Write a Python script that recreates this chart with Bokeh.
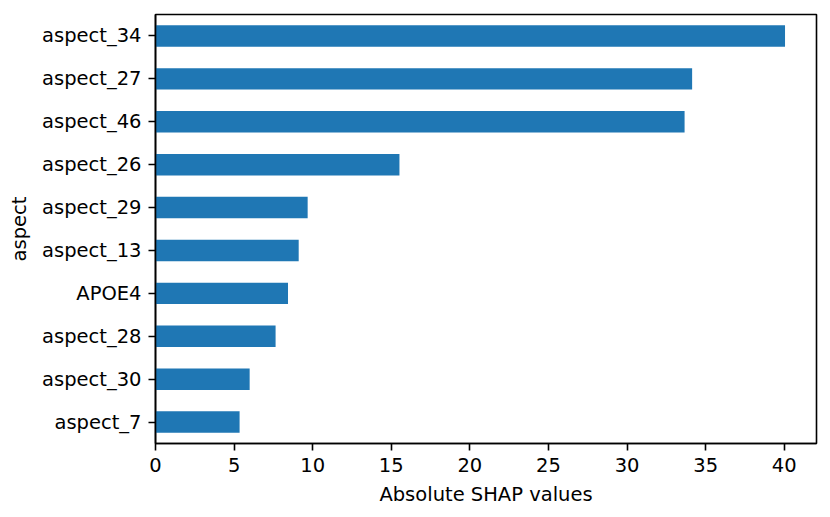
from bokeh.plotting import figure
from bokeh.models import ColumnDataSource, FactorRange, Range1d, FixedTicker
from bokeh.embed import file_html
from bokeh.resources import INLINE

# data (top to bottom as displayed)
aspects = ["aspect_34", "aspect_27", "aspect_46", "aspect_26", "aspect_29",
           "aspect_13", "APOE4", "aspect_28", "aspect_30", "aspect_7"]
shap_values = [40.05, 34.14, 33.66, 15.52, 9.68, 9.11, 8.43, 7.64, 5.99, 5.35]
x_ticks = [0, 5, 10, 15, 20, 25, 30, 35, 40]

FONT = "DejaVu Sans"
FS = "19.5px"

factors = list(reversed(aspects))
src = ColumnDataSource(dict(aspect=aspects, value=shap_values))

p = figure(
    y_range=FactorRange(factors=factors),
    x_range=Range1d(0, max(shap_values) * 1.05),
    frame_width=661, frame_height=429,
    min_border_left=155, min_border_top=14, min_border_right=6, min_border_bottom=60,
    output_backend="svg", toolbar_location=None,
)
p.hbar(y="aspect", right="value", left=0, height=0.5, source=src,
       fill_color="#1f77b4", line_color=None)

p.xgrid.visible = False
p.ygrid.visible = False
p.outline_line_color = "black"
p.outline_line_width = 1.6
p.outline_line_alpha = 1.0

for ax in (p.xaxis[0], p.yaxis[0]):
    ax.axis_line_color = "black"
    ax.axis_line_width = 1.6
    ax.major_tick_line_color = "black"
    ax.major_tick_line_width = 1.6
    ax.major_tick_out = 7
    ax.major_tick_in = 0
    ax.minor_tick_line_color = None
    ax.major_label_standoff = 7
    ax.major_label_text_font = FONT
    ax.major_label_text_font_size = FS
    ax.major_label_text_color = "black"
    ax.axis_label_text_font = FONT
    ax.axis_label_text_font_size = FS
    ax.axis_label_text_font_style = "normal"
    ax.axis_label_text_color = "black"
    ax.axis_label_standoff = 8

p.xaxis[0].ticker = FixedTicker(ticks=x_ticks)
p.xaxis[0].axis_label = "Absolute SHAP values"
p.yaxis[0].axis_label = "aspect"

open("out.html", "w").write(file_html(p, INLINE))
